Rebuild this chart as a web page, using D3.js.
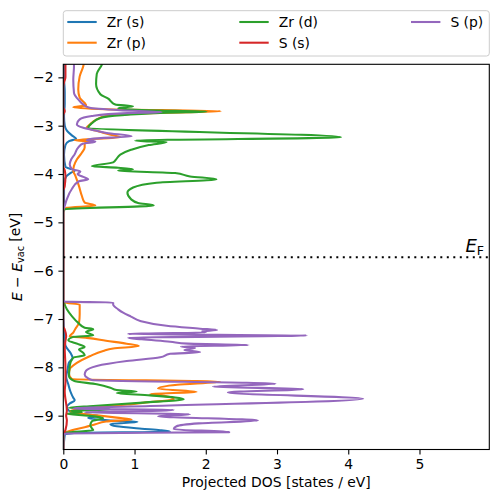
<!DOCTYPE html>
<html><head><meta charset="utf-8">
<script src="https://cdn.jsdelivr.net/npm/d3@7"></script>
<style>body{margin:0;background:#fff} svg{display:block} text{font-family:"DejaVu Sans",sans-serif;fill:#000}</style>
</head><body><svg id="c" width="498" height="502"></svg>
<script>
const seriesNames = ["Zr (s)", "Zr (p)", "Zr (d)", "S (s)", "S (p)"];
const seriesColors = ["#1f77b4", "#ff7f0e", "#2ca02c", "#d62728", "#9467bd"];
const xTicks = [0, 1, 2, 3, 4, 5];
const yTicks = [-9, -8, -7, -6, -5, -4, -3, -2];
const xDomain = [0, 5.98];
const yDomain = [-9.70, -1.73];
const fermiLevel = -5.72;

// [energy (eV), projected DOS (states/eV)]
const zrS = [[-1.70,0.01],[-2.00,0.01],[-2.30,0.02],[-2.55,0.02],[-2.80,0.01],[-3.00,0.02],[-3.10,0.05],[-3.20,0.12],[-3.27,0.18],[-3.32,0.08],[-3.40,0.03],[-3.60,0.01],[-3.85,0.03],[-3.93,0.16],[-3.98,0.10],[-4.05,0.04],[-4.20,0.01],[-4.60,0.01],[-4.75,0],[-6.60,0],[-7.30,0.01],[-7.55,0.03],[-7.70,0.10],[-7.80,0.13],[-7.90,0.08],[-8.05,0.06],[-8.20,0.04],[-8.35,0.07],[-8.50,0.10],[-8.63,0.14],[-8.68,0.16],[-8.75,0.09],[-8.82,0.05],[-8.90,0.08],[-8.97,0.30],[-9.00,0.49],[-9.05,0.35],[-9.10,0.66],[-9.13,1.04],[-9.17,0.66],[-9.22,0.75],[-9.27,1.10],[-9.30,1.36],[-9.33,1.50],[-9.36,0.15],[-9.40,0.02],[-9.80,0]];
const zrP = [[-1.70,0.29],[-1.77,0.28],[-1.98,0.23],[-2.25,0.21],[-2.42,0.23],[-2.53,0.30],[-2.58,0.32],[-2.62,0.14],[-2.66,0.60],[-2.70,2.21],[-2.74,1.20],[-2.80,0.60],[-2.87,0.47],[-2.98,0.37],[-3.04,0.33],[-3.10,0.45],[-3.20,0.70],[-3.24,0.80],[-3.30,0.16],[-3.33,0.40],[-3.37,0.30],[-3.45,0.30],[-3.56,0.26],[-3.70,0.19],[-3.83,0.15],[-3.93,0.14],[-4.04,0.17],[-4.25,0.22],[-4.45,0.26],[-4.59,0.30],[-4.65,0.45],[-4.70,0.05],[-4.75,0],[-6.60,0],[-6.66,0.02],[-6.70,0.23],[-6.90,0.23],[-7.08,0.22],[-7.20,0.17],[-7.28,0.14],[-7.36,0.09],[-7.39,0.33],[-7.45,0.60],[-7.51,0.89],[-7.56,1.06],[-7.61,0.70],[-7.66,0.56],[-7.77,0.37],[-7.91,0.19],[-8.04,0.09],[-8.14,0.08],[-8.24,0.12],[-8.30,2.20],[-8.36,1.60],[-8.44,1.33],[-8.51,1.87],[-8.55,1.22],[-8.60,1.45],[-8.66,1.55],[-8.72,1.20],[-8.77,0.90],[-8.82,0.52],[-8.86,0.26],[-8.90,0.10],[-8.95,0.20],[-8.99,0.45],[-9.04,0.75],[-9.08,0.96],[-9.12,0.60],[-9.18,0.45],[-9.24,0.30],[-9.30,0.12],[-9.35,0.03],[-9.40,0],[-9.80,0]];
const zrD = [[-1.70,0.55],[-1.74,0.54],[-1.93,0.47],[-2.14,0.46],[-2.35,0.52],[-2.45,0.64],[-2.50,0.67],[-2.56,0.73],[-2.60,0.98],[-2.64,0.77],[-2.68,1.20],[-2.71,2.01],[-2.73,1.45],[-2.84,0.52],[-2.95,0.40],[-3.04,0.35],[-3.24,3.90],[-3.31,1.01],[-3.34,1.45],[-3.40,1.20],[-3.50,0.95],[-3.60,0.80],[-3.70,0.74],[-3.76,0.70],[-3.84,0.40],[-3.87,0.77],[-3.90,0.98],[-3.93,0.77],[-3.98,1.57],[-4.05,1.78],[-4.11,2.15],[-4.18,1.31],[-4.28,0.98],[-4.39,0.90],[-4.52,0.95],[-4.60,1.05],[-4.65,1.27],[-4.73,0.02],[-4.80,0],[-6.60,0],[-6.66,0.01],[-6.80,0.05],[-6.94,0.12],[-7.08,0.21],[-7.18,0.30],[-7.21,0.42],[-7.27,0.32],[-7.34,0.42],[-7.37,0.14],[-7.44,0.07],[-7.52,0.21],[-7.58,0.30],[-7.63,0.22],[-7.70,0.28],[-7.75,0.30],[-7.80,0.14],[-7.97,0.09],[-8.18,0.08],[-8.28,0.15],[-8.35,0.47],[-8.42,0.66],[-8.47,0.75],[-8.50,1.03],[-8.53,0.75],[-8.58,1.22],[-8.66,1.69],[-8.73,1.12],[-8.80,0.42],[-8.84,0.08],[-8.87,0.66],[-8.90,0.10],[-8.93,0.26],[-8.96,0.05],[-9.00,0.35],[-9.05,0.56],[-9.12,0.40],[-9.20,0.38],[-9.26,0.40],[-9.30,0.42],[-9.35,0.05],[-9.40,0],[-9.80,0]];
const sS = [[-1.70,0.03],[-2.00,0.03],[-2.10,0.01],[-2.20,0],[-2.62,0],[-2.70,0.02],[-2.78,0],[-3.85,0],[-3.92,0.02],[-4.05,0.03],[-4.25,0.02],[-4.35,0],[-7.15,0],[-7.22,0.02],[-7.35,0.04],[-7.45,0.03],[-7.60,0.02],[-8.00,0.03],[-8.30,0.03],[-8.50,0.02],[-8.90,0.05],[-9.00,0.04],[-9.10,0.05],[-9.30,0.03],[-9.40,0],[-9.80,0]];
const sP = [[-1.70,0.15],[-1.77,0.15],[-2.05,0.14],[-2.32,0.15],[-2.49,0.23],[-2.55,0.27],[-2.63,0.37],[-2.68,0.80],[-2.72,1.38],[-2.74,0.90],[-2.80,0.40],[-2.87,0.23],[-2.97,0.19],[-3.04,0.27],[-3.10,0.45],[-3.15,0.61],[-3.22,0.96],[-3.27,0.40],[-3.30,0.33],[-3.33,0.45],[-3.37,0.28],[-3.45,0.21],[-3.59,0.16],[-3.70,0.11],[-3.80,0.09],[-3.90,0.12],[-3.95,0.24],[-4.00,0.20],[-4.06,0.28],[-4.11,0.35],[-4.15,0.22],[-4.31,0.12],[-4.52,0.05],[-4.66,0.02],[-4.75,0],[-6.60,0],[-6.64,0.02],[-6.66,0.70],[-6.70,0.70],[-6.80,0.77],[-6.87,0.84],[-6.95,0.95],[-7.04,1.08],[-7.14,1.45],[-7.20,1.92],[-7.23,2.16],[-7.25,1.95],[-7.28,2.00],[-7.30,1.20],[-7.31,0.91],[-7.34,3.42],[-7.39,0.91],[-7.42,1.10],[-7.47,1.50],[-7.51,1.75],[-7.54,2.60],[-7.57,1.65],[-7.60,1.85],[-7.64,1.70],[-7.69,1.92],[-7.72,1.50],[-7.79,1.36],[-7.87,0.89],[-7.97,0.47],[-8.07,0.32],[-8.15,0.30],[-8.22,0.34],[-8.26,0.40],[-8.34,2.98],[-8.40,2.10],[-8.45,3.37],[-8.52,2.31],[-8.65,4.21],[-8.80,1.22],[-8.84,0.20],[-8.86,0.14],[-8.88,1.55],[-8.90,1.36],[-8.93,0.30],[-8.97,1.78],[-9.01,1.33],[-9.10,2.73],[-9.16,1.90],[-9.22,1.59],[-9.28,1.55],[-9.34,2.33],[-9.37,0.05],[-9.40,0],[-9.80,0]];

const seriesData = [zrS, zrP, zrD, sS, sP];

const svg = d3.select("#c");
const L = 63.3, R = 489.3, T = 64.3, B = 449.5;
const x = d3.scaleLinear().domain(xDomain).range([L, R]);
const y = d3.scaleLinear().domain(yDomain).range([B, T]);
const FS = 13.9, LW = 2.08;

svg.append("defs").append("clipPath").attr("id", "clip")
  .append("rect").attr("x", L).attr("y", T).attr("width", R - L).attr("height", B - T);

const plot = svg.append("g").attr("clip-path", "url(#clip)");
const line = d3.line().x(d => x(d[1])).y(d => y(d[0])).curve(d3.curveMonotoneY);
seriesData.forEach((s, i) => {
  plot.append("path").datum(s).attr("d", line)
    .attr("fill", "none").attr("stroke", seriesColors[i]).attr("stroke-width", LW)
    .attr("stroke-linejoin", "round").attr("stroke-linecap", "square");
});

// Fermi level
plot.append("line").attr("x1", L).attr("x2", R).attr("y1", y(fermiLevel)).attr("y2", y(fermiLevel))
  .attr("stroke", "#000").attr("stroke-width", 2).attr("stroke-dasharray", "2,4.5");

const efText = svg.append("text").attr("x", 484).attr("y", y(fermiLevel) - 5)
  .attr("text-anchor", "end").style("font-size", "18px");
efText.append("tspan").style("font-style", "italic").text("E");
efText.append("tspan").attr("dy", "0.22em").style("font-size", "12.6px").text("F");

// Axes
const fmt = d => d < 0 ? "\u2212" + Math.abs(d) : String(d);
const xAxis = svg.append("g").attr("transform", `translate(0,${B})`)
  .call(d3.axisBottom(x).tickValues(xTicks).tickSize(4.9).tickPadding(4.9).tickFormat(fmt));
const yAxis = svg.append("g").attr("transform", `translate(${L},0)`)
  .call(d3.axisLeft(y).tickValues(yTicks).tickSize(4.9).tickPadding(4.9).tickFormat(fmt));
[xAxis, yAxis].forEach(g => {
  g.select(".domain").remove();
  g.selectAll(".tick line").attr("stroke", "#000").attr("stroke-width", 1.1);
  g.selectAll(".tick text").style("font-size", FS + "px").style("font-family", "DejaVu Sans").attr("fill", "#000");
});
svg.append("rect").attr("x", L).attr("y", T).attr("width", R - L).attr("height", B - T)
  .attr("fill", "none").attr("stroke", "#000").attr("stroke-width", 1.1);

svg.append("text").attr("x", (L + R) / 2).attr("y", 487).attr("text-anchor", "middle")
  .style("font-size", FS + "px").text("Projected DOS [states / eV]");

const yl = svg.append("text").attr("transform", `translate(22,${(T + B) / 2}) rotate(-90)`)
  .attr("text-anchor", "middle").style("font-size", FS + "px");
yl.append("tspan").style("font-style", "italic").text("E");
yl.append("tspan").text(" \u2212 ");
yl.append("tspan").style("font-style", "italic").text("E");
yl.append("tspan").attr("dy", "0.2em").style("font-size", "9.7px").text("vac");
yl.append("tspan").attr("dy", "-0.29em").text(" [eV]");

// Legend
const lg = svg.append("g");
lg.append("rect").attr("x", 63.3).attr("y", 10.7).attr("width", 426).attr("height", 45.3)
  .attr("rx", 2.8).attr("fill", "#fff").attr("fill-opacity", 0.8).attr("stroke", "#cccccc").attr("stroke-width", 1);
const colX = [67.3, 239.3, 411];
const rowY = [22, 42.7];
seriesNames.forEach((n, i) => {
  const c = Math.floor(i / 2), r = i % 2;
  lg.append("line").attr("x1", colX[c]).attr("x2", colX[c] + 29.4).attr("y1", rowY[r]).attr("y2", rowY[r])
    .attr("stroke", seriesColors[i]).attr("stroke-width", LW);
  lg.append("text").attr("x", colX[c] + 39.4).attr("y", rowY[r]).attr("dy", "0.36em")
    .style("font-size", FS + "px").text(n);
});
</script></body></html>
